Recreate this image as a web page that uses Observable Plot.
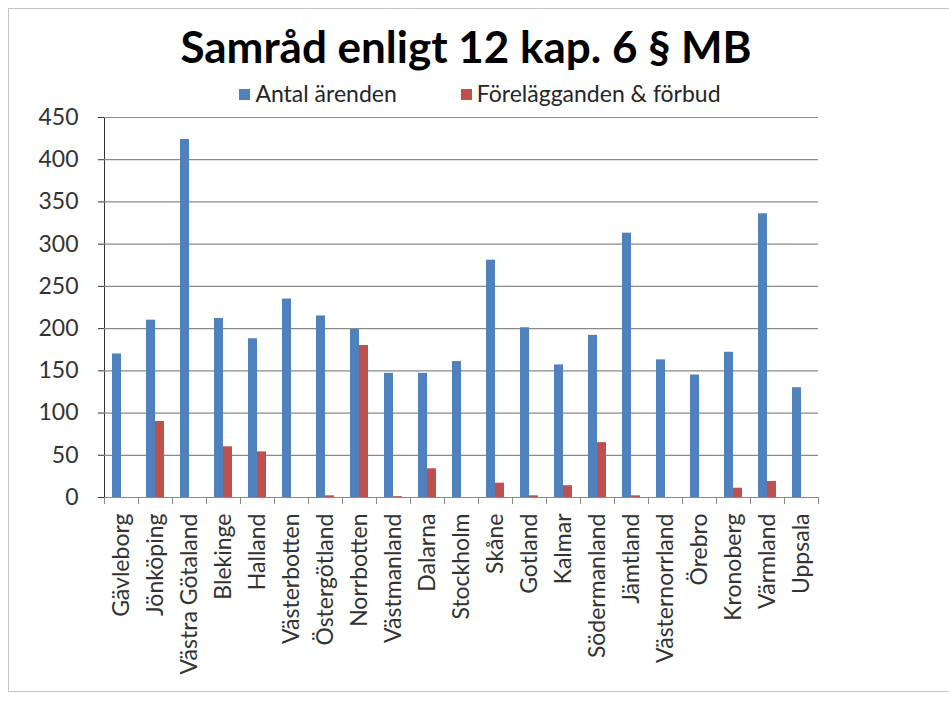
<!DOCTYPE html>
<html><head><meta charset="utf-8">
<script src="https://cdn.jsdelivr.net/npm/d3@7"></script>
<script src="https://cdn.jsdelivr.net/npm/@observablehq/plot@0.6"></script>
<style>
body{margin:0;background:#fff;font-family:Lato,"Open Sans",sans-serif;}
#wrap{position:relative;width:949px;height:714px;overflow:hidden;background:#fff}
#border{position:absolute;left:8px;top:8px;width:960px;height:682px;border:1px solid #c4c4c4;}
#title{position:absolute;left:0;width:932px;top:20px;text-align:center;font-weight:bold;font-size:44px;color:#000;line-height:52px;white-space:nowrap}
#legend{position:absolute;left:0;width:960px;top:80px;text-align:center;font-size:23px;color:#262626;line-height:26px;white-space:nowrap}
#legend span.item{margin:0 32px}
#legend i{display:inline-block;width:11px;height:11px;margin-right:5px;vertical-align:2px}
#chart{position:absolute;left:0;top:0}
</style></head>
<body>
<div id="wrap">
  <div id="border"></div>
  <div id="chart"></div>
  <div id="title">Samråd enligt 12 kap. 6 § MB</div>
  <div id="legend"></div>
</div>
<script>
const regions = ["Gävleborg","Jönköping","Västra Götaland","Blekinge","Halland","Västerbotten","Östergötland","Norrbotten","Västmanland","Dalarna","Stockholm","Skåne","Gotland","Kalmar","Södermanland","Jämtland","Västernorrland","Örebro","Kronoberg","Värmland","Uppsala"];
const antalArenden = [170,210,424,212,188,235,215,199,147,147,161,281,201,157,192,313,163,145,172,336,130];
const forelaggandenForbud = [0,90,0,60,54,0,2,180,1,34,0,17,2,14,65,2,0,0,11,19,0];
const seriesNames = ["Antal ärenden","Förelägganden & förbud"];
const seriesColors = ["#4F81BD","#C0504D"];
const yTicks = [0,50,100,150,200,250,300,350,400,450];

const data = regions.flatMap((r,i)=>[
  {region:r, series:seriesNames[0], value:antalArenden[i]},
  {region:r, series:seriesNames[1], value:forelaggandenForbud[i]}
]);

document.getElementById("legend").innerHTML = seriesNames.map((s,i)=>
  `<span class="item"><i style="background:${seriesColors[i]}"></i>${s}</span>`).join("");

const chart = Plot.plot({
  width: 949, height: 714,
  marginLeft: 102, marginRight: 129, marginTop: 117, marginBottom: 217,
  style: {fontFamily: "Lato, 'Open Sans', sans-serif", fontSize: "23px", color: "#333", background: "transparent", overflow: "visible"},
  facet: {data, x: "region"},
  fx: {domain: regions, padding: 0, label: null, tickRotate: -90, tickSize: 0, tickPadding: 16, fontSize: 24},
  x: {domain: seriesNames, paddingInner: 0, paddingOuter: 0.75, axis: null},
  y: {domain: [0,450], ticks: yTicks, label: null, tickSize: 6, tickPadding: 20, line: true},
  color: {domain: seriesNames, range: seriesColors},
  marks: [
    Plot.ruleY(yTicks, {stroke: "#8a8a8a", strokeWidth: 1.2}),
    Plot.barY(data, {x: "series", y: "value", fill: "series"}),
    Plot.frame({anchor: "left", stroke: "#8a8a8a", insetTop: 380, insetBottom: -6}),
    Plot.frame({anchor: "right", stroke: "#8a8a8a", insetTop: 380, insetBottom: -6})
  ]
});
document.getElementById("chart").appendChild(chart);
</script>
</body></html>
